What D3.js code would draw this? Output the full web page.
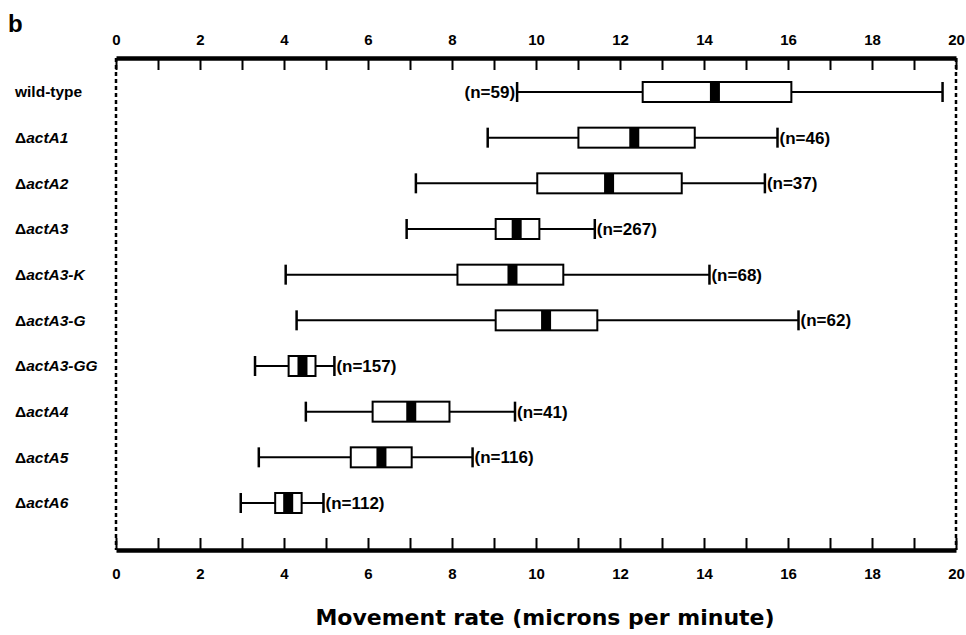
<!DOCTYPE html>
<html>
<head>
<meta charset="utf-8">
<script src="https://cdn.jsdelivr.net/npm/d3@7"></script>
<style>
  body { margin: 0; background: #fff; }
  text { font-family: "Liberation Sans", Arial, sans-serif; fill: #000; }
</style>
</head>
<body>
<div id="container"></div>
<script>
// strain names, shown as prefix (upright) + italic gene name
const strains = ["wild-type", "actA1", "actA2", "actA3", "actA3-K", "actA3-G", "actA3-GG", "actA4", "actA5", "actA6"]
const whiskerLow  = [9.55, 8.85, 7.14, 6.92, 4.04, 4.30, 3.31, 4.52, 3.40, 2.97]
const boxLow      = [12.54, 11.01, 10.03, 9.04, 8.13, 9.04, 4.11, 6.11, 5.59, 3.79]
const medians     = [14.26, 12.34, 11.74, 9.54, 9.44, 10.24, 4.44, 7.03, 6.32, 4.10]
const boxHigh     = [16.08, 13.78, 13.47, 10.08, 10.65, 11.46, 4.75, 7.94, 7.04, 4.42]
const whiskerHigh = [19.68, 15.75, 15.45, 11.40, 14.13, 16.25, 5.20, 9.50, 8.49, 4.94]
const counts      = [59, 46, 37, 267, 68, 62, 157, 41, 116, 112]
const xTicks = d3.range(0, 21)

const width = 966, height = 635
const svg = d3.select("#container").append("svg")
    .attr("width", width)
    .attr("height", height)

const xScale = d3.scaleLinear().domain([0, 20]).range([116, 956])
const yScale = d3.scalePoint().domain(strains).range([92, 503])

const axisTopY = 58, axisBottomY = 550

// dashed side borders
svg.selectAll(".side")
    .data([0, 20])
    .enter()
    .append("line")
    .attr("x1", d => xScale(d)).attr("x2", d => xScale(d))
    .attr("y1", axisTopY).attr("y2", axisBottomY)
    .attr("stroke", "#000")
    .attr("stroke-width", 2.5)
    .attr("stroke-dasharray", "4,3")

// axes, ticks pointing into the plot
const fmt = d => d % 2 === 0 ? d : ""

svg.append("g")
    .attr("transform", "translate(0," + axisTopY + ")")
    .call(d3.axisTop(xScale).tickValues(xTicks).tickFormat(fmt)
        .tickSizeInner(-12).tickSizeOuter(0).tickPadding(13))

svg.append("g")
    .attr("transform", "translate(0," + axisBottomY + ")")
    .call(d3.axisBottom(xScale).tickValues(xTicks).tickFormat(fmt)
        .tickSizeInner(-12).tickSizeOuter(0).tickPadding(18))

svg.selectAll(".domain").attr("stroke-width", 4.5).attr("stroke", "#000")
svg.selectAll(".tick line").attr("stroke-width", 2).attr("stroke", "#000")
svg.selectAll(".tick text")
    .style("font-size", "15px")
    .style("font-weight", "bold")
    .style("font-family", "Liberation Sans, Arial, sans-serif")

// category labels
const labels = svg.selectAll(".cat")
    .data(strains)
    .enter()
    .append("text")
    .attr("class", "cat")
    .attr("x", 15)
    .attr("y", d => yScale(d))
    .attr("dy", "0.35em")
    .style("font-size", "15.5px")
    .style("font-weight", "bold")

labels.each(function (d) {
    const t = d3.select(this)
    if (d === "wild-type") {
        t.text(d)
    } else {
        t.append("tspan").text("\u0394")
        t.append("tspan").style("font-style", "italic").text(d)
    }
})

// box plots
const rows = strains.map((s, i) => ({
    name: s, lo: whiskerLow[i], q1: boxLow[i], med: medians[i],
    q3: boxHigh[i], hi: whiskerHigh[i], n: counts[i]
}))

const g = svg.selectAll(".row")
    .data(rows)
    .enter()
    .append("g")
    .attr("class", "row")
    .attr("transform", d => "translate(0," + yScale(d.name) + ")")

g.append("line")
    .attr("x1", d => xScale(d.lo)).attr("x2", d => xScale(d.hi))
    .attr("y1", 0).attr("y2", 0)
    .attr("stroke", "#000").attr("stroke-width", 2)

g.selectAll(".cap")
    .data(d => [d.lo, d.hi])
    .enter()
    .append("line")
    .attr("x1", v => xScale(v)).attr("x2", v => xScale(v))
    .attr("y1", -10).attr("y2", 10)
    .attr("stroke", "#000").attr("stroke-width", 2.5)

g.append("rect")
    .attr("x", d => xScale(d.q1))
    .attr("y", -10)
    .attr("width", d => xScale(d.q3) - xScale(d.q1))
    .attr("height", 20)
    .attr("fill", "#fff")
    .attr("stroke", "#000")
    .attr("stroke-width", 2)

g.append("rect")
    .attr("x", d => xScale(d.med) - 5)
    .attr("y", -10)
    .attr("width", 10)
    .attr("height", 20)
    .attr("fill", "#000")

g.append("text")
    .attr("x", d => d.name === "wild-type" ? xScale(d.lo) - 2 : xScale(d.hi) + 2)
    .attr("y", 0)
    .attr("dy", "0.36em")
    .attr("text-anchor", d => d.name === "wild-type" ? "end" : "start")
    .style("font-size", "17px")
    .style("font-weight", "bold")
    .text(d => "(n=" + d.n + ")")

// panel letter and axis title
svg.append("text")
    .attr("x", 8).attr("y", 32)
    .style("font-size", "24px")
    .style("font-weight", "bold")
    .text("b")

svg.append("text")
    .attr("x", 545).attr("y", 625)
    .attr("text-anchor", "middle")
    .style("font-family", "DejaVu Sans, sans-serif")
    .style("font-size", "22px")
    .style("font-weight", "bold")
    .text("Movement rate (microns per minute)")
</script>
</body>
</html>
